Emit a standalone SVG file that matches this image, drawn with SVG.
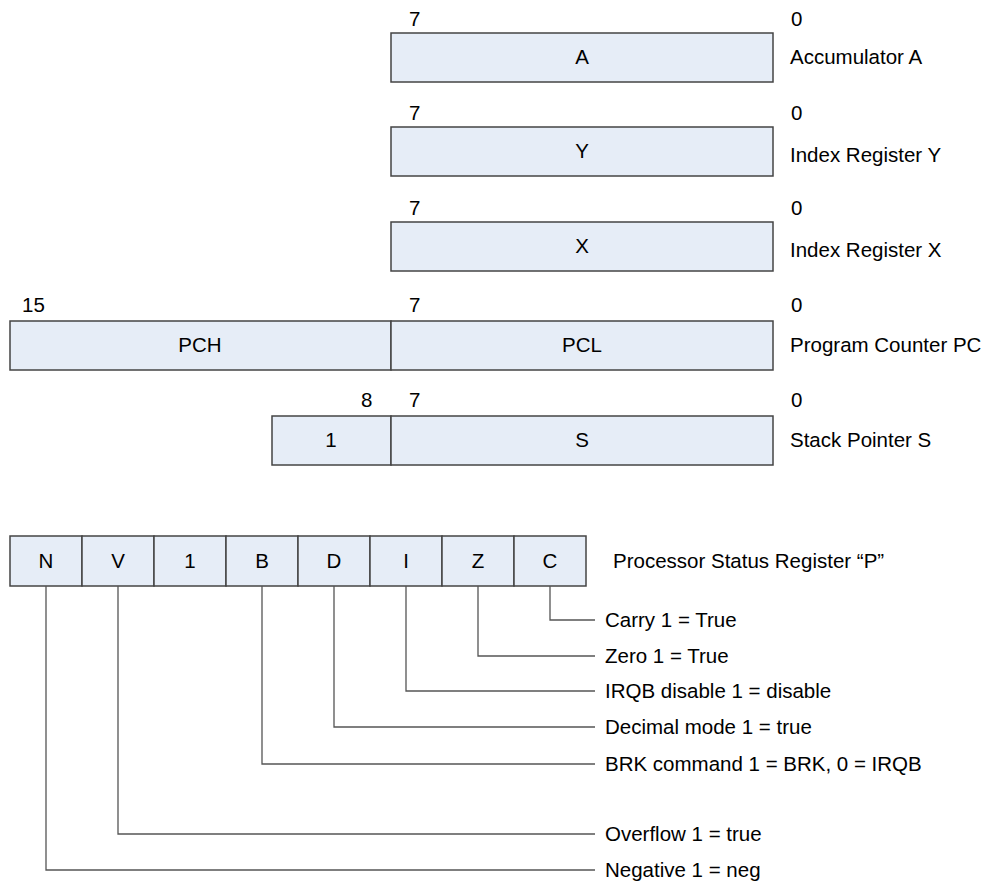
<svg xmlns="http://www.w3.org/2000/svg" width="992" height="886" viewBox="0 0 992 886">
<style>
.box{fill:#e6edf7;stroke:#444;stroke-width:1.5}
.t{font-family:"Liberation Sans",Arial,sans-serif;font-size:20.5px;fill:#000}
.c{text-anchor:middle}
.ln{fill:none;stroke:#555;stroke-width:1.3}
</style>
<rect width="992" height="886" fill="#fff"/>
<g id="reg-A">
<rect class="box" x="391" y="33" width="382" height="49"/>
<text class="t c" x="582" y="64">A</text>
<text class="t" x="409" y="26">7</text>
<text class="t" x="791" y="26">0</text>
<text class="t" x="790" y="64">Accumulator A</text>
</g>
<g id="reg-Y">
<rect class="box" x="391" y="127" width="382" height="49"/>
<text class="t c" x="582" y="158">Y</text>
<text class="t" x="409" y="120">7</text>
<text class="t" x="791" y="120">0</text>
<text class="t" x="790" y="162">Index Register Y</text>
</g>
<g id="reg-X">
<rect class="box" x="391" y="222" width="382" height="49"/>
<text class="t c" x="582" y="253">X</text>
<text class="t" x="409" y="215">7</text>
<text class="t" x="791" y="215">0</text>
<text class="t" x="790" y="257">Index Register X</text>
</g>
<g id="reg-PC">
<rect class="box" x="10" y="321" width="381" height="49"/>
<rect class="box" x="391" y="321" width="382" height="49"/>
<text class="t c" x="200" y="352">PCH</text>
<text class="t c" x="582" y="352">PCL</text>
<text class="t" x="22" y="312">15</text>
<text class="t" x="409" y="312">7</text>
<text class="t" x="791" y="312">0</text>
<text class="t" x="790" y="352">Program Counter PC</text>
</g>
<g id="reg-S">
<rect class="box" x="272" y="416" width="119" height="49"/>
<rect class="box" x="391" y="416" width="382" height="49"/>
<text class="t c" x="331" y="447">1</text>
<text class="t c" x="582" y="447">S</text>
<text class="t" x="361" y="407">8</text>
<text class="t" x="409" y="407">7</text>
<text class="t" x="791" y="407">0</text>
<text class="t" x="790" y="447">Stack Pointer S</text>
</g>
<g id="reg-P">
<rect class="box" x="10" y="536" width="72" height="50"/>
<rect class="box" x="82" y="536" width="72" height="50"/>
<rect class="box" x="154" y="536" width="72" height="50"/>
<rect class="box" x="226" y="536" width="72" height="50"/>
<rect class="box" x="298" y="536" width="72" height="50"/>
<rect class="box" x="370" y="536" width="72" height="50"/>
<rect class="box" x="442" y="536" width="72" height="50"/>
<rect class="box" x="514" y="536" width="72" height="50"/>
<text class="t c" x="46" y="568">N</text>
<text class="t c" x="118" y="568">V</text>
<text class="t c" x="190" y="568">1</text>
<text class="t c" x="262" y="568">B</text>
<text class="t c" x="334" y="568">D</text>
<text class="t c" x="406" y="568">I</text>
<text class="t c" x="478" y="568">Z</text>
<text class="t c" x="550" y="568">C</text>
<text class="t" x="613" y="568">Processor Status Register “P”</text>
</g>
<g id="connectors">
<polyline class="ln" points="550,586 550,620 595,620"/>
<polyline class="ln" points="478,586 478,656 595,656"/>
<polyline class="ln" points="406,586 406,691 595,691"/>
<polyline class="ln" points="334,586 334,727 595,727"/>
<polyline class="ln" points="262,586 262,764 595,764"/>
<polyline class="ln" points="118,586 118,834 595,834"/>
<polyline class="ln" points="46,586 46,870 595,870"/>
</g>
<g id="labels">
<text class="t" x="605" y="627">Carry 1 = True</text>
<text class="t" x="605" y="663">Zero 1 = True</text>
<text class="t" x="605" y="698">IRQB disable 1 = disable</text>
<text class="t" x="605" y="734">Decimal mode 1 = true</text>
<text class="t" x="605" y="771">BRK command 1 = BRK, 0 = IRQB</text>
<text class="t" x="605" y="841">Overflow 1 = true</text>
<text class="t" x="605" y="877">Negative 1 = neg</text>
</g>
</svg>
